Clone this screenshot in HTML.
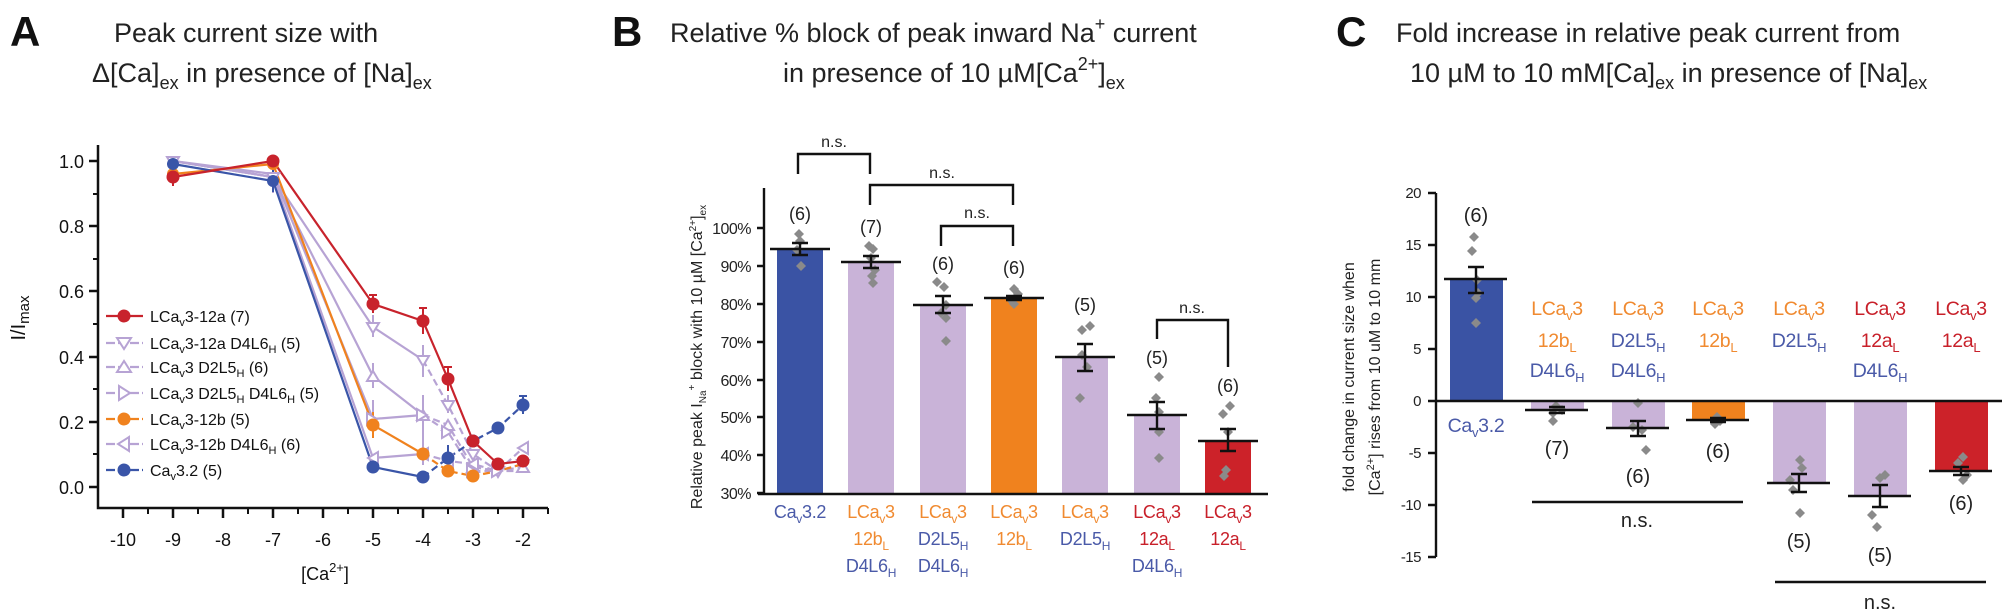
<!DOCTYPE html>
<html><head><meta charset="utf-8"><style>
html,body{margin:0;padding:0;background:#fff;}
svg{display:block;font-family:"Liberation Sans",Arial,sans-serif;}
</style></head><body>
<svg width="2007" height="614" viewBox="0 0 2007 614" xmlns="http://www.w3.org/2000/svg">
<defs><path id="dia" d="M0,-5 L5,0 L0,5 L-5,0z"/></defs>
<!-- Panel letters and titles -->
<g font-weight="bold" font-size="42" fill="#111">
<text x="10" y="46">A</text><text x="612" y="46">B</text><text x="1336" y="46">C</text>
</g>
<g font-size="27" fill="#222">
<text x="114" y="42">Peak current size with</text>
<text x="92" y="82">Δ[Ca]<tspan font-size="18" dy="7">ex</tspan><tspan dy="-7"> in presence of [Na]</tspan><tspan font-size="18" dy="7">ex</tspan></text>
<text x="670" y="42">Relative % block of peak inward Na<tspan font-size="18" dy="-12">+</tspan><tspan dy="12"> current</tspan></text>
<text x="783" y="82">in presence of 10 µM[Ca<tspan font-size="18" dy="-12">2+</tspan><tspan dy="12">]</tspan><tspan font-size="18" dy="7">ex</tspan></text>
<text x="1396" y="42">Fold increase in relative peak current from</text>
<text x="1410" y="82">10 µM to 10 mM[Ca]<tspan font-size="18" dy="7">ex</tspan><tspan dy="-7"> in presence of [Na]</tspan><tspan font-size="18" dy="7">ex</tspan></text>
</g>

<!-- ============ PANEL A ============ -->
<g stroke="#111" stroke-width="2.5" fill="none">
<path d="M98,145 V508 H548"/>
<path d="M98,161 h-9 M98,226 h-9 M98,291 h-9 M98,357 h-9 M98,422 h-9 M98,487 h-9"/>
<path d="M98,194 h-5 M98,259 h-5 M98,324 h-5 M98,389 h-5 M98,454 h-5" stroke-width="2"/>
<path d="M123,508 v10 M173,508 v10 M223,508 v10 M273,508 v10 M323,508 v10 M373,508 v10 M423,508 v10 M473,508 v10 M523,508 v10"/>
<path d="M148,508 v6 M198,508 v6 M248,508 v6 M298,508 v6 M348,508 v6 M398,508 v6 M448,508 v6 M498,508 v6 M548,508 v6" stroke-width="2"/>
</g>
<g font-size="18" fill="#111" text-anchor="end">
<text x="84" y="168">1.0</text><text x="84" y="233">0.8</text><text x="84" y="298">0.6</text><text x="84" y="364">0.4</text><text x="84" y="429">0.2</text><text x="84" y="494">0.0</text>
</g>
<g font-size="18" fill="#111" text-anchor="middle">
<text x="123" y="546">-10</text><text x="173" y="546">-9</text><text x="223" y="546">-8</text><text x="273" y="546">-7</text><text x="323" y="546">-6</text><text x="373" y="546">-5</text><text x="423" y="546">-4</text><text x="473" y="546">-3</text><text x="523" y="546">-2</text>
<text x="325" y="580">[Ca<tspan font-size="13" dy="-8">2+</tspan><tspan dy="8">]</tspan></text>
</g>
<text transform="translate(25,318) rotate(-90)" font-size="20" fill="#111" text-anchor="middle">I/I<tspan font-size="15" dy="4">max</tspan></text>

<g fill="none" stroke-width="2.2">
<g stroke="#b7a3d4">
<polyline points="173,161 273,177 373,327 423,360"/><polyline points="423,360 448,405 473,454 498,471 523,464" stroke-dasharray="7,4"/>
<polyline points="173,161 273,177 373,376 423,415"/><polyline points="423,415 448,425 473,467 498,471 523,467" stroke-dasharray="7,4"/>
<polyline points="173,161 273,174 373,419 423,415"/><polyline points="423,415 448,432 473,471 498,471 523,471" stroke-dasharray="7,4"/>
<polyline points="173,161 273,177 373,458 423,454"/><polyline points="423,454 448,461 473,464 498,471 523,448" stroke-dasharray="7,4"/>
</g>
<polyline stroke="#f0821e" points="173,174 273,164 373,425 423,454"/><polyline stroke="#f0821e" points="423,454 448,471 473,476 498,471 523,464" stroke-dasharray="7,4"/>
<polyline stroke="#3a55a8" points="173,164 273,181 373,467 423,477"/><polyline stroke="#3a55a8" points="423,477 448,458 473,441 498,428 523,405" stroke-dasharray="7,4"/>
<polyline stroke="#c8232c" points="173,177 273,161 373,304 423,321 448,379 473,441 498,464 523,461"/>
</g>
<g stroke-width="2" fill="none">
<path stroke="#b7a3d4" d="M273,165 v28 M373,315 v22 M373,363 v25 M373,400 v25 M423,345 v32 M423,395 v42 M423,420 v45 M448,395 v18"/>
<path stroke="#c8232c" d="M373,295 v18 M369,295 h8 M423,308 v26 M419,308 h8 M448,367 v24 M444,367 h8 M173,168 v18"/>
<path stroke="#f0821e" d="M373,412 v26"/>
<path stroke="#3a55a8" d="M448,445 v16 M523,396 v18 M519,396 h8 M273,170 v22"/>
</g>
<g stroke="#b7a3d4" stroke-width="2" fill="#fff">
<path d="M167,157 h12 l-6,10z M267,173 h12 l-6,10z M367,323 h12 l-6,10z M417,356 h12 l-6,10z M442,401 h12 l-6,10z M467,450 h12 l-6,10z M492,467 h12 l-6,10z M517,460 h12 l-6,10z"/>
<path d="M367,381 h12 l-6,-10z M417,420 h12 l-6,-10z M442,430 h12 l-6,-10z M467,472 h12 l-6,-10z M517,472 h12 l-6,-10z"/>
<path d="M367,413 v12 l10,-6z M417,409 v12 l10,-6z M442,426 v12 l10,-6z M467,465 v12 l10,-6z M492,465 v12 l10,-6z"/>
<path d="M378,452 v12 l-10,-6z M428,448 v12 l-10,-6z M453,455 v12 l-10,-6z M478,458 v12 l-10,-6z M528,442 v12 l-10,-6z"/>
</g>
<g fill="#f0821e"><circle cx="173" cy="174" r="6"/><circle cx="273" cy="164" r="6"/><circle cx="373" cy="425" r="6.5"/><circle cx="423" cy="454" r="6.5"/><circle cx="448" cy="471" r="6.5"/><circle cx="473" cy="476" r="6.5"/></g>
<g fill="#3a55a8"><circle cx="173" cy="164" r="6"/><circle cx="273" cy="181" r="6"/><circle cx="373" cy="467" r="6.5"/><circle cx="423" cy="477" r="6.5"/><circle cx="448" cy="458" r="6.5"/><circle cx="473" cy="441" r="6.5"/><circle cx="498" cy="428" r="6.5"/><circle cx="523" cy="405" r="6.5"/></g>
<g fill="#c8232c"><circle cx="173" cy="177" r="6.5"/><circle cx="273" cy="161" r="6.5"/><circle cx="373" cy="304" r="6.5"/><circle cx="423" cy="321" r="6.5"/><circle cx="448" cy="379" r="6.5"/><circle cx="473" cy="441" r="6.5"/><circle cx="498" cy="464" r="6.5"/><circle cx="523" cy="461" r="6.5"/></g>
<!-- legend -->
<g stroke-width="2.2" fill="none">
<path stroke="#c8232c" d="M106,316 h37"/>
<path stroke="#b7a3d4" d="M106,343 h37 M106,367 h37 M106,393 h37 M106,444 h37" stroke-dasharray="9,3"/>
<path stroke="#f0821e" d="M106,419 h37" stroke-dasharray="9,3"/>
<path stroke="#3a55a8" d="M106,470 h37" stroke-dasharray="9,3"/>
</g>
<circle cx="124" cy="316" r="6.5" fill="#c8232c"/>
<circle cx="124" cy="419" r="6.5" fill="#f0821e"/>
<circle cx="124" cy="470" r="6.5" fill="#3a55a8"/>
<g stroke="#b7a3d4" stroke-width="2" fill="#fff">
<path d="M117,338 h14 l-7,11z M117,372 h14 l-7,-11z M119,386 v14 l11,-7z M129,437 v14 l-11,-7z"/>
</g>
<g font-size="16" fill="#111">
<text x="150" y="322">LCa<tspan font-size="11" dy="4">v</tspan><tspan dy="-4">3-12a (7)</tspan></text>
<text x="150" y="349">LCa<tspan font-size="11" dy="4">v</tspan><tspan dy="-4">3-12a D4L6</tspan><tspan font-size="11" dy="4">H</tspan><tspan dy="-4"> (5)</tspan></text>
<text x="150" y="373">LCa<tspan font-size="11" dy="4">v</tspan><tspan dy="-4">3 D2L5</tspan><tspan font-size="11" dy="4">H</tspan><tspan dy="-4"> (6)</tspan></text>
<text x="150" y="399">LCa<tspan font-size="11" dy="4">v</tspan><tspan dy="-4">3 D2L5</tspan><tspan font-size="11" dy="4">H</tspan><tspan dy="-4"> D4L6</tspan><tspan font-size="11" dy="4">H</tspan><tspan dy="-4"> (5)</tspan></text>
<text x="150" y="425">LCa<tspan font-size="11" dy="4">v</tspan><tspan dy="-4">3-12b (5)</tspan></text>
<text x="150" y="450">LCa<tspan font-size="11" dy="4">v</tspan><tspan dy="-4">3-12b D4L6</tspan><tspan font-size="11" dy="4">H</tspan><tspan dy="-4"> (6)</tspan></text>
<text x="150" y="476">Ca<tspan font-size="11" dy="4">v</tspan><tspan dy="-4">3.2 (5)</tspan></text>
</g>

<!-- ============ PANEL B ============ -->
<g>
<rect x="777" y="250" width="46" height="243" fill="#3a53a4"/>
<rect x="848" y="262" width="46" height="231" fill="#c9b3d8"/>
<rect x="920" y="305" width="46" height="188" fill="#c9b3d8"/>
<rect x="991" y="298" width="46" height="195" fill="#f0821e"/>
<rect x="1062" y="357" width="46" height="136" fill="#c9b3d8"/>
<rect x="1134" y="415" width="46" height="78" fill="#c9b3d8"/>
<rect x="1205" y="440" width="46" height="53" fill="#cc2229"/>
</g>
<g fill="#8a8a8a">
<use href="#dia" x="799" y="234"/><use href="#dia" x="800" y="241"/><use href="#dia" x="801" y="266"/><use href="#dia" x="797" y="250"/>
<use href="#dia" x="869" y="246"/><use href="#dia" x="873" y="249"/><use href="#dia" x="871" y="258"/><use href="#dia" x="875" y="270"/><use href="#dia" x="872" y="276"/><use href="#dia" x="873" y="283"/>
<use href="#dia" x="937" y="282"/><use href="#dia" x="944" y="287"/><use href="#dia" x="946" y="305"/><use href="#dia" x="941" y="313"/><use href="#dia" x="946" y="318"/><use href="#dia" x="946" y="341"/>
<use href="#dia" x="1014" y="289"/><use href="#dia" x="1018" y="294"/><use href="#dia" x="1011" y="300"/><use href="#dia" x="1014" y="304"/>
<use href="#dia" x="1082" y="330"/><use href="#dia" x="1090" y="326"/><use href="#dia" x="1082" y="355"/><use href="#dia" x="1087" y="367"/><use href="#dia" x="1080" y="398"/>
<use href="#dia" x="1159" y="377"/><use href="#dia" x="1156" y="398"/><use href="#dia" x="1159" y="412"/><use href="#dia" x="1159" y="432"/><use href="#dia" x="1159" y="458"/>
<use href="#dia" x="1230" y="406"/><use href="#dia" x="1223" y="414"/><use href="#dia" x="1228" y="432"/><use href="#dia" x="1226" y="470"/><use href="#dia" x="1224" y="476"/>
</g>
<g stroke="#111" stroke-width="2.4" fill="none">
<path d="M770,249 h60 M792,243 h16 M800,243 v12 M792,255 h16"/>
<path d="M841,262 h60 M863,256 h16 M871,256 v12 M863,268 h16"/>
<path d="M913,305 h60 M935,296 h16 M943,296 v17 M935,313 h16"/>
<path d="M984,298 h60 M1006,296 h16 M1006,300 h16"/>
<path d="M1055,357 h60 M1077,344 h16 M1085,344 v27 M1077,371 h16"/>
<path d="M1127,415 h60 M1149,402 h16 M1157,402 v27 M1149,429 h16"/>
<path d="M1198,441 h60 M1220,429 h16 M1228,429 v22 M1220,451 h16"/>
<path d="M764,188 V494 M758,494 H1268"/>
<path d="M764,228 h-7 M764,266 h-7 M764,304 h-7 M764,342 h-7 M764,380 h-7 M764,417 h-7 M764,455 h-7 M764,493 h-7"/>
<path d="M798,174 V154 H870 V174"/>
<path d="M870,205 V185 H1013 V205"/>
<path d="M941,246 V226 H1013 V246"/>
<path d="M1157,339 V320 H1228 V367"/>
</g>
<g font-size="16" fill="#222" text-anchor="middle">
<text x="834" y="147">n.s.</text><text x="942" y="178">n.s.</text><text x="977" y="218">n.s.</text><text x="1192" y="313">n.s.</text>
</g>
<g font-size="18" fill="#222" text-anchor="middle">
<text x="800" y="220">(6)</text><text x="871" y="233">(7)</text><text x="943" y="270">(6)</text><text x="1014" y="274">(6)</text><text x="1085" y="311">(5)</text><text x="1157" y="364">(5)</text><text x="1228" y="392">(6)</text>
</g>
<g font-size="16" fill="#222" text-anchor="end" letter-spacing="-0.5">
<text x="751" y="234">100%</text><text x="751" y="272">90%</text><text x="751" y="310">80%</text><text x="751" y="348">70%</text><text x="751" y="386">60%</text><text x="751" y="423">50%</text><text x="751" y="461">40%</text><text x="751" y="499">30%</text>
</g>
<text transform="translate(702,357) rotate(-90)" font-size="16" fill="#222" text-anchor="middle">Relative peak I<tspan font-size="10" dy="4">Na</tspan><tspan font-size="10" dy="-11">+</tspan><tspan dy="7"> block with 10 µM [Ca</tspan><tspan font-size="10" dy="-6">2+</tspan><tspan dy="6">]</tspan><tspan font-size="10" dy="4">ex</tspan></text>
<g font-size="18" text-anchor="middle" letter-spacing="-0.3">
<text x="800" y="518" fill="#4a5aa8">Ca<tspan font-size="12" dy="5">v</tspan><tspan dy="-5">3.2</tspan></text>
<g fill="#f08a30"><text x="871" y="518">LCa<tspan font-size="12" dy="5">v</tspan><tspan dy="-5">3</tspan></text><text x="871" y="545">12b<tspan font-size="12" dy="5">L</tspan></text>
<text x="943" y="518">LCa<tspan font-size="12" dy="5">v</tspan><tspan dy="-5">3</tspan></text><text x="1014" y="518">LCa<tspan font-size="12" dy="5">v</tspan><tspan dy="-5">3</tspan></text><text x="1014" y="545">12b<tspan font-size="12" dy="5">L</tspan></text><text x="1085" y="518">LCa<tspan font-size="12" dy="5">v</tspan><tspan dy="-5">3</tspan></text></g>
<g fill="#4a5aa8"><text x="871" y="572">D4L6<tspan font-size="12" dy="5">H</tspan></text><text x="943" y="545">D2L5<tspan font-size="12" dy="5">H</tspan></text><text x="943" y="572">D4L6<tspan font-size="12" dy="5">H</tspan></text><text x="1085" y="545">D2L5<tspan font-size="12" dy="5">H</tspan></text><text x="1157" y="572">D4L6<tspan font-size="12" dy="5">H</tspan></text></g>
<g fill="#c8202a"><text x="1157" y="518">LCa<tspan font-size="12" dy="5">v</tspan><tspan dy="-5">3</tspan></text><text x="1157" y="545">12a<tspan font-size="12" dy="5">L</tspan></text><text x="1228" y="518">LCa<tspan font-size="12" dy="5">v</tspan><tspan dy="-5">3</tspan></text><text x="1228" y="545">12a<tspan font-size="12" dy="5">L</tspan></text></g>
</g>

<!-- ============ PANEL C ============ -->
<g>
<rect x="1450" y="279" width="53" height="122" fill="#3a53a4"/>
<rect x="1531" y="401" width="53" height="9" fill="#c9b3d8"/>
<rect x="1612" y="401" width="53" height="26" fill="#c9b3d8"/>
<rect x="1692" y="401" width="53" height="19" fill="#f0821e"/>
<rect x="1773" y="401" width="53" height="81" fill="#c9b3d8"/>
<rect x="1854" y="401" width="53" height="94" fill="#c9b3d8"/>
<rect x="1935" y="401" width="53" height="70" fill="#cc2229"/>
</g>
<g fill="#8a8a8a">
<use href="#dia" x="1474" y="237"/><use href="#dia" x="1472" y="251"/><use href="#dia" x="1477" y="280"/><use href="#dia" x="1478" y="293"/><use href="#dia" x="1476" y="298"/><use href="#dia" x="1476" y="323"/>
<use href="#dia" x="1556" y="406"/><use href="#dia" x="1562" y="410"/><use href="#dia" x="1553" y="413"/><use href="#dia" x="1553" y="421"/>
<use href="#dia" x="1638" y="403"/><use href="#dia" x="1633" y="427"/><use href="#dia" x="1642" y="430"/><use href="#dia" x="1646" y="450"/>
<use href="#dia" x="1717" y="417"/><use href="#dia" x="1720" y="421"/><use href="#dia" x="1715" y="424"/>
<use href="#dia" x="1800" y="460"/><use href="#dia" x="1802" y="468"/><use href="#dia" x="1790" y="480"/><use href="#dia" x="1793" y="490"/><use href="#dia" x="1800" y="513"/>
<use href="#dia" x="1885" y="475"/><use href="#dia" x="1880" y="478"/><use href="#dia" x="1872" y="515"/><use href="#dia" x="1877" y="527"/>
<use href="#dia" x="1963" y="457"/><use href="#dia" x="1958" y="463"/><use href="#dia" x="1967" y="475"/><use href="#dia" x="1963" y="480"/>
</g>
<g stroke="#111" stroke-width="2.4" fill="none">
<path d="M1436,193 V557 M1436,401 H2002"/>
<path d="M1436,193 h-8 M1436,245 h-8 M1436,297 h-8 M1436,349 h-8 M1436,401 h-8 M1436,453 h-8 M1436,505 h-8 M1436,557 h-8"/>
<path d="M1444,279 h63 M1468,267 h16 M1476,267 v26 M1468,293 h16"/>
<path d="M1525,410 h63 M1549,407 h16 M1549,413 h16"/>
<path d="M1606,428 h63 M1630,421 h16 M1638,421 v15 M1630,436 h16"/>
<path d="M1686,420 h63 M1710,418 h16 M1710,422 h16"/>
<path d="M1767,483 h63 M1791,474 h16 M1799,474 v18 M1791,492 h16"/>
<path d="M1848,496 h63 M1872,485 h16 M1880,485 v22 M1872,507 h16"/>
<path d="M1929,471 h63 M1953,467 h16 M1961,467 v8 M1953,475 h16"/>
<path d="M1532,502 H1743 M1775,582 H1986"/>
</g>
<g font-size="15" fill="#222" text-anchor="end" letter-spacing="-0.5">
<text x="1421" y="198">20</text><text x="1421" y="250">15</text><text x="1421" y="302">10</text><text x="1421" y="354">5</text><text x="1421" y="406">0</text><text x="1421" y="458">-5</text><text x="1421" y="510">-10</text><text x="1421" y="562">-15</text>
</g>
<g font-size="16" fill="#222" text-anchor="middle">
<text transform="translate(1354,377) rotate(-90)">fold change in current size when</text>
<text transform="translate(1380,377) rotate(-90)">[Ca<tspan font-size="11" dy="-6">2+</tspan><tspan dy="6">] rises from 10 uM to 10 mm</tspan></text>
</g>
<g font-size="20" fill="#222" text-anchor="middle">
<text x="1476" y="222">(6)</text><text x="1557" y="455">(7)</text><text x="1638" y="483">(6)</text><text x="1718" y="458">(6)</text><text x="1799" y="548">(5)</text><text x="1880" y="562">(5)</text><text x="1961" y="510">(6)</text>
<text x="1637" y="527">n.s.</text><text x="1880" y="609">n.s.</text>
</g>
<g font-size="19.5" text-anchor="middle" letter-spacing="-0.3">
<text x="1476" y="432" fill="#4a5aa8">Ca<tspan font-size="13" dy="5">v</tspan><tspan dy="-5">3.2</tspan></text>
<g fill="#f08a30"><text x="1557" y="315">LCa<tspan font-size="13" dy="5">v</tspan><tspan dy="-5">3</tspan></text><text x="1557" y="347">12b<tspan font-size="13" dy="5">L</tspan></text>
<text x="1638" y="315">LCa<tspan font-size="13" dy="5">v</tspan><tspan dy="-5">3</tspan></text><text x="1718" y="315">LCa<tspan font-size="13" dy="5">v</tspan><tspan dy="-5">3</tspan></text><text x="1718" y="347">12b<tspan font-size="13" dy="5">L</tspan></text><text x="1799" y="315">LCa<tspan font-size="13" dy="5">v</tspan><tspan dy="-5">3</tspan></text></g>
<g fill="#4a5aa8"><text x="1557" y="377">D4L6<tspan font-size="13" dy="5">H</tspan></text><text x="1638" y="347">D2L5<tspan font-size="13" dy="5">H</tspan></text><text x="1638" y="377">D4L6<tspan font-size="13" dy="5">H</tspan></text><text x="1799" y="347">D2L5<tspan font-size="13" dy="5">H</tspan></text><text x="1880" y="377">D4L6<tspan font-size="13" dy="5">H</tspan></text></g>
<g fill="#c8202a"><text x="1880" y="315">LCa<tspan font-size="13" dy="5">v</tspan><tspan dy="-5">3</tspan></text><text x="1880" y="347">12a<tspan font-size="13" dy="5">L</tspan></text><text x="1961" y="315">LCa<tspan font-size="13" dy="5">v</tspan><tspan dy="-5">3</tspan></text><text x="1961" y="347">12a<tspan font-size="13" dy="5">L</tspan></text></g>
</g>
</svg>
</body></html>
